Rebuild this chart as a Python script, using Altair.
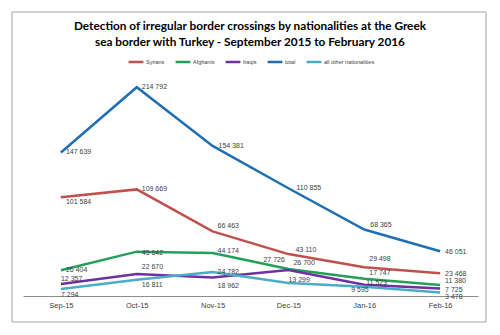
import altair as alt
import pandas as pd

months = ["Sep-15", "Oct-15", "Nov-15", "Dec-15", "Jan-16", "Feb-16"]
series_names = ["Syrians", "Afghanis", "Iraqis", "total", "all other nationalities"]
syrians = [101584, 109669, 66463, 43110, 29498, 23468]
afghanis = [26404, 45642, 44174, 27726, 17747, 11380]
iraqis = [12357, 22670, 18962, 26700, 11523, 7725]
total = [147639, 214792, 154381, 110855, 68365, 46051]
others = [7294, 16811, 24782, 13299, 9595, 3478]
colors = ["#c0504d", "#22a05a", "#7030a0", "#1f6fb2", "#4bacc6"]
title_lines = ["Detection of irregular border crossings by nationalities at the Greek",
               "sea border with Turkey  - September 2015 to February 2016"]

# label nudges (pixels) per series, per month: (dx, dy)
label_nudge = {
    "Syrians": [(5, 5), (5, 0), (5, -5), (7, -4), (5, -8), (5, 1)],
    "Afghanis": [(5, 0), (5, 1), (5, -2), (-25, -9), (5, -6), (5, -4)],
    "Iraqis": [(0, -5), (5, -7), (5, 8), (5, -7), (2, -2), (5, 2)],
    "total": [(5, 0), (5, 0), (6, 0), (8, 0), (6, -5), (5, 1)],
    "all other nationalities": [(0, 6), (5, 5), (5, 0), (0, -3), (-13, 3), (5, 4)],
}

values = [syrians, afghanis, iraqis, total, others]
rows = []
for name, vals in zip(series_names, values):
    for i, (m, v) in enumerate(zip(months, vals)):
        rows.append({"month": m, "idx": i, "series": name, "value": v,
                     "label": f"{v:,}".replace(",", " ")})
df = pd.DataFrame(rows)

x = alt.X("month:N", sort=months, title=None,
          scale=alt.Scale(type="point", padding=0.5),
          axis=alt.Axis(labelAngle=0, ticks=False, domainColor="#8c8c8c",
                        labelFontSize=7.5, labelColor="#404040", labelPadding=5,
                        labelFont="Liberation Sans", grid=False))
y = alt.Y("value:Q", scale=alt.Scale(domain=[0, 250000], nice=False),
          axis=None, title=None)
color = alt.Color("series:N", sort=series_names,
                  scale=alt.Scale(domain=series_names, range=colors),
                  legend=alt.Legend(orient="none", direction="horizontal",
                                    legendX=104, legendY=0, title=None,
                                    symbolType="stroke", symbolSize=220,
                                    symbolStrokeWidth=2.5, labelFontSize=5.5,
                                    labelColor="#404040", labelFont="Liberation Sans",
                                    columnPadding=5, labelOffset=1))

base_one = alt.Chart(pd.DataFrame({"a": [0]}))
frame = base_one.mark_rect(
    fill=None, stroke="#a6a6a6", strokeWidth=1
).encode(x=alt.value(-11), x2=alt.value(463), y=alt.value(-41), y2=alt.value(269))

title_layers = []
for line, ypos in zip(title_lines, [-27, -11]):
    title_layers.append(
        alt.Chart(pd.DataFrame({"t": [line]})).mark_text(
            align="center", baseline="middle", fontSize=11.8, font="Lato",
            fontWeight="bold", color="#000000"
        ).encode(x=alt.value(227), y=alt.value(ypos), text="t:N")
    )

lines = alt.Chart(df).mark_line(strokeWidth=2.5, interpolate="linear").encode(
    x=x, y=y, color=color, order=alt.Order("idx:Q"))

label_layers = []
for name in series_names:
    sub = df[df.series == name]
    for i in range(len(months)):
        dx, dy = label_nudge[name][i]
        label_layers.append(
            alt.Chart(sub[sub.idx == i]).mark_text(
                align="left", baseline="middle", dx=dx, dy=dy,
                fontSize=7, color="#404040", font="Liberation Sans"
            ).encode(x=x, y=y, text="label:N")
        )

chart = alt.layer(frame, *title_layers, lines, *label_layers).properties(
    width=455, height=243,
    padding={"left": 23, "top": 53, "right": 22, "bottom": 39},
    autosize=alt.AutoSizeParams(type="none"),
    background="white",
).configure_view(stroke=None)

chart.save("out.html", embed_options={"renderer": "svg", "actions": False})
